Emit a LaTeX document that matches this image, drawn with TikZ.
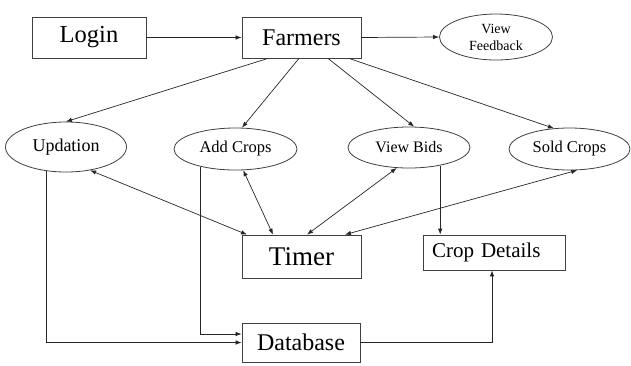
\documentclass[tikz,border=0pt]{standalone}
\usepackage{fontspec}
\setmainfont{Liberation Serif}
\usetikzlibrary{shapes.geometric,arrows.meta}

\newcommand{\fsz}[1]{\fontsize{#1}{#1}\selectfont}

\begin{document}
\begin{tikzpicture}[x=1pt,y=-1pt,
    box/.style={draw=black!75, line width=0.8pt, rectangle, inner sep=0pt},
    oval/.style={draw=black!75, line width=0.8pt, ellipse, inner sep=0pt},
    link/.style={draw=black!85, line width=0.7pt, -{Latex[length=6pt,width=4.5pt]}},
    both/.style={link, {Latex[length=6pt,width=4.5pt]}-{Latex[length=6pt,width=4.5pt]}}]

\useasboundingbox (0,0) rectangle (631,365);

% top row
\node[box, minimum width=114pt, minimum height=41pt, font=\fsz{24.5}] (login) at (89,37.5) {Login};
\node[box, minimum width=119pt, minimum height=41pt, font=\fsz{24}] (farmers) at (301.5,37.5) {Farmers};
\node[oval, minimum width=113pt, minimum height=46pt, font=\fsz{14}, align=center] (feedback) at (496,37) {View\\[3pt]Feedback};

% ellipses
\node[oval, minimum width=121pt, minimum height=50pt, font=\fsz{18}] (updation) at (66,147) {Updation};
\node[oval, minimum width=123pt, minimum height=42pt, font=\fsz{16.5}] (addcrops) at (235.5,149) {Add Crops};
\node[oval, minimum width=122pt, minimum height=41pt, font=\fsz{16}] (viewbids) at (409,147.5) {View Bids};
\node[oval, minimum width=121pt, minimum height=42pt, font=\fsz{16.5}] (soldcrops) at (569.5,149) {Sold Crops};

% lower boxes
\node[box, minimum width=119pt, minimum height=43pt, font=\fsz{27}] (timer) at (301.5,256.5) {Timer};
\node[box, text width=124pt, inner xsep=9pt, minimum height=35pt, align=left, font=\fsz{21}] (cropdetails) at (494,252.5) {Crop Details};
\node[box, minimum width=118pt, minimum height=39pt, font=\fsz{24}] (database) at (301,342.5) {Database};

\draw[link] (login) -- (farmers);
\draw[link] (farmers.east) -- (feedback.west);

\draw[link] ([xshift=-33.5pt]farmers.south) -- (updation.north);
\draw[link] ([xshift=-2.5pt]farmers.south) -- (addcrops.73);
\draw[link] ([xshift=26.5pt]farmers.south) -- (viewbids.76);
\draw[link] ([xshift=47.5pt]farmers.south) -- (soldcrops.127);

\draw[both] (updation.-44) -- ([xshift=-54.5pt]timer.north);
\draw[both] (addcrops.-70) -- ([xshift=-28.5pt]timer.north);
\draw[both] (viewbids.-121) -- ([xshift=5.5pt]timer.north);
\draw[both] (soldcrops.-70) -- ([xshift=43.5pt]timer.north);

\draw[link] (viewbids.-30) -- (viewbids.-30 |- cropdetails.north);
\draw[link] (updation.-129) |- (database.west);
\draw[link] (addcrops.-153) |- ([yshift=8.5pt]database.west);
\draw[link] (database.east) -| ([xshift=-2pt]cropdetails.south);

\end{tikzpicture}
\end{document}
